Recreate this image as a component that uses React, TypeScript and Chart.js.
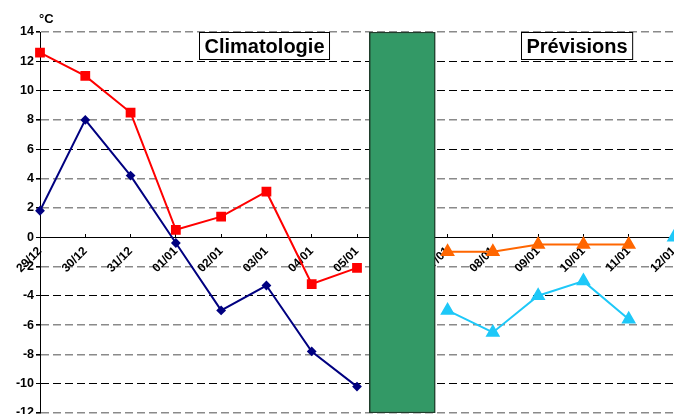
import { useEffect, useRef } from "react";
import { Chart, registerables } from "chart.js";

Chart.register(...registerables);

const categories = [
  "29/12", "30/12", "31/12", "01/01", "02/01", "03/01", "04/01", "05/01",
  "06/01", "07/01", "08/01", "09/01", "10/01", "11/01", "12/01",
];
const climatoMax = [12.6, 11.0, 8.5, 0.5, 1.4, 3.1, -3.2, -2.1, null, null, null, null, null, null, null];
const climatoMin = [1.8, 8.0, 4.2, -0.4, -5.0, -3.3, -7.8, -10.2, null, null, null, null, null, null, null];
const prevMax = [null, null, null, null, null, null, null, null, null, -1.0, -1.0, -0.5, -0.5, -0.5, null];
const prevMin = [null, null, null, null, null, null, null, null, null, -5.0, -6.5, -4.0, -3.0, -5.6, null];
const prevExtra = [null, null, null, null, null, null, null, null, null, null, null, null, null, null, 0];
const separator = [null, null, null, null, null, null, null, null, [-12, 14], null, null, null, null, null, null];
const yMin = -12;
const yMax = 14;
const yStep = 2;
const unitLabel = "°C";
const leftTitle = "Climatologie";
const rightTitle = "Prévisions";

const FONT = "'Liberation Sans', Arial, Helvetica, sans-serif";
const grayLines = [14, 8, 4, 2, -2, -6, -8, -12];

const zeroPad = (s: any) => {
  s.paddingLeft = 0;
  s.paddingRight = 0;
  s.paddingTop = 0;
  s.paddingBottom = 0;
};

const annotPlugin = {
  id: "annot",
  afterDraw(chart: any) {
    const { ctx, chartArea, scales } = chart;
    const x = scales.x;
    ctx.save();
    ctx.font = `bold 13px ${FONT}`;
    ctx.fillStyle = "#000";
    ctx.textAlign = "left";
    ctx.textBaseline = "alphabetic";
    ctx.fillText(unitLabel, chartArea.left - 1, chartArea.top - 9);

    const drawBox = (text: string, leftVal: number) => {
      ctx.font = `bold 20px ${FONT}`;
      const w = ctx.measureText(text).width + 10;
      const left = Math.round(x.getPixelForValue(leftVal)) + 0.5;
      const top = chartArea.top + 0.5;
      const h = 27;
      ctx.fillStyle = "#fff";
      ctx.fillRect(left, top, w, h);
      ctx.strokeStyle = "#000";
      ctx.lineWidth = 1;
      ctx.strokeRect(left, top, w, h);
      ctx.fillStyle = "#000";
      ctx.textAlign = "center";
      ctx.textBaseline = "middle";
      ctx.fillText(text, left + w / 2, top + h / 2 + 1);
    };
    drawBox(leftTitle, 3.5);
    drawBox(rightTitle, 10.62);
    ctx.restore();
  },
};

export default function App() {
  const ref = useRef<HTMLCanvasElement | null>(null);
  useEffect(() => {
    if (!ref.current) return;
    Chart.defaults.font.family = FONT;
    const chart = new Chart(ref.current, {
      type: "line",
      data: {
        labels: categories,
        datasets: [
          {
            label: "max clim",
            data: climatoMax as any,
            borderColor: "#ff0000",
            backgroundColor: "#ff0000",
            borderWidth: 2,
            pointStyle: "rect",
            pointRadius: 5.5,
            pointHoverRadius: 5.5,
            tension: 0,
            spanGaps: false,
          },
          {
            label: "min clim",
            data: climatoMin as any,
            borderColor: "#000080",
            backgroundColor: "#000080",
            borderWidth: 2,
            pointStyle: "rectRot",
            pointRadius: 3.5,
            tension: 0,
          },
          {
            label: "max prev",
            data: prevMax as any,
            borderColor: "#ff6600",
            backgroundColor: "#ff6600",
            borderWidth: 2,
            pointStyle: "triangle",
            pointRadius: 6.5,
            tension: 0,
          },
          {
            label: "min prev",
            data: prevMin as any,
            borderColor: "#1ec8f8",
            backgroundColor: "#1ec8f8",
            borderWidth: 2,
            pointStyle: "triangle",
            pointRadius: 6.5,
            tension: 0,
          },
          {
            label: "extra",
            data: prevExtra as any,
            borderColor: "#1ec8f8",
            backgroundColor: "#1ec8f8",
            borderWidth: 2,
            pointStyle: "triangle",
            pointRadius: 6.5,
            tension: 0,
          },
          {
            type: "bar",
            label: "sep",
            data: separator as any,
            backgroundColor: "#339966",
            borderColor: "#1f3d2b",
            borderWidth: 1.5,
            borderSkipped: false,
            barThickness: 66,
          } as any,
        ],
      },
      options: {
        responsive: false,
        animation: false,
        devicePixelRatio: 1,
        layout: { autoPadding: false, padding: { top: 32, left: 0, right: 0, bottom: 1 } },
        plugins: {
          legend: { display: false },
          tooltip: { enabled: false },
        },
        scales: {
          x: {
            type: "category",
            offset: false,
            position: { y: 0 } as any,
            grid: {
              offset: false,
              drawOnChartArea: false,
              drawTicks: true,
              tickLength: -4,
              tickColor: "#000",
              tickWidth: 1,
            },
            border: { display: true, color: "#000", width: 1 },
            ticks: {
              autoSkip: false,
              minRotation: 45,
              maxRotation: 45,
              padding: 11,
              color: "#000",
              font: { size: 12, weight: "bold", family: FONT },
            },
            afterFit: zeroPad,
          },
          y: {
            type: "linear",
            min: yMin,
            max: yMax,
            ticks: {
              stepSize: yStep,
              padding: 2,
              color: "#000",
              font: { size: 12.5, weight: "bold", family: FONT },
            },
            grid: {
              color: (c: any) => (grayLines.includes(c.tick?.value) ? "#8a8a8a" : "#000"),
              lineWidth: (c: any) => (grayLines.includes(c.tick?.value) ? 1.6 : 1),
              tickColor: "#000",
              tickLength: 4,
              tickBorderDash: [],
            },
            border: { display: true, color: "#000", width: 1, dash: [8, 4] },
            afterFit: (s: any) => {
              s.width = 40;
              zeroPad(s);
            },
          },
        },
      },
      plugins: [annotPlugin],
    });
    return () => chart.destroy();
  }, []);
  return (
    <div style={{ position: "absolute", left: 0, top: 0, width: 674, height: 414, overflow: "hidden", background: "#fff" }}>
      <canvas ref={ref} width={674} height={414} style={{ display: "block" }} />
    </div>
  );
}
